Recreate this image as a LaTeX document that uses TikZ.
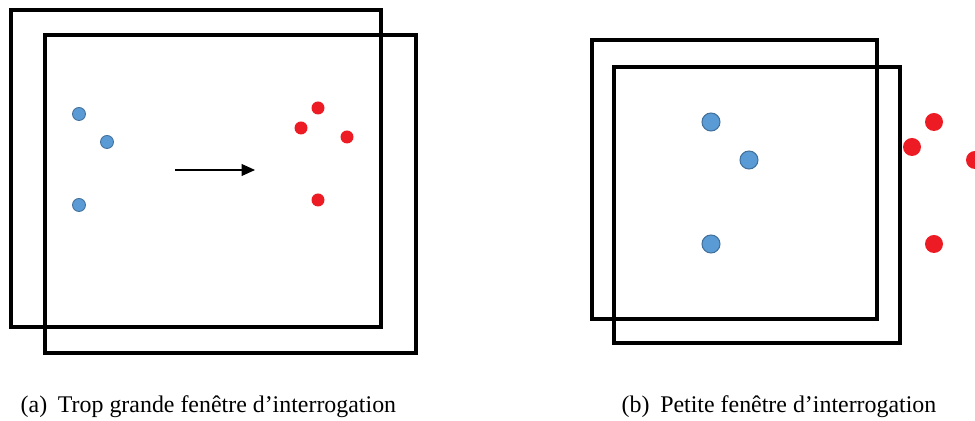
\documentclass[tikz,border=0pt]{standalone}
\usepackage{fontspec}
\setmainfont{Liberation Serif}
\usetikzlibrary{arrows.meta}

\definecolor{ptblue}{RGB}{91,155,213}
\definecolor{ptblueedge}{RGB}{65,113,156}
\definecolor{ptred}{RGB}{237,28,36}

\begin{document}
\begin{tikzpicture}[x=0.02cm, y=-0.02cm, thick, text=black, draw=black,
    window/.style={draw=black, line width=2pt},
    bluesmall/.style={circle, inner sep=0pt, minimum size=0.26cm, fill=ptblue, draw=ptblueedge, line width=0.5pt},
    redsmall/.style={circle, inner sep=0pt, minimum size=0.26cm, fill=ptred},
    bluebig/.style={circle, inner sep=0pt, minimum size=0.36cm, fill=ptblue, draw=ptblueedge, line width=0.6pt},
    redbig/.style={circle, inner sep=0pt, minimum size=0.36cm, fill=ptred},
    legend/.style={anchor=base west, inner sep=0pt, font=\fontsize{13.6}{16}\selectfont}]

        % Fix the page to the reference size
        \useasboundingbox (0,0) rectangle (975,421);
        \clip (0,0) rectangle (975,421);

        % (a) the two large query windows
        \draw[window] (11,10) rectangle (381,327);
        \draw[window] (45,35) rectangle (416,353);

        % Blue points on the left, red points on the right
        \node[bluesmall] (BlueA1) at (79,114) {};
        \node[bluesmall] (BlueA2) at (107,142) {};
        \node[bluesmall] (BlueA3) at (79,205) {};
        \node[redsmall] (RedA1) at (318,108) {};
        \node[redsmall] (RedA2) at (301,128) {};
        \node[redsmall] (RedA3) at (347,137) {};
        \node[redsmall] (RedA4) at (318,200) {};

        % Displacement arrow between the two groups
        \coordinate (ArrowStart) at (175,170);
        \coordinate (ArrowEnd) at (255,170);
        \draw[-{Triangle[length=0.27cm, width=0.24cm]}, line width=0.6pt] (ArrowStart) -- (ArrowEnd);

        % (b) the two small query windows
        \draw[window] (592,40) rectangle (877,319);
        \draw[window] (614,67) rectangle (900,343);

        % Points seen through the small window
        \node[bluebig] (BlueB1) at (711,122) {};
        \node[bluebig] (BlueB2) at (749,160) {};
        \node[bluebig] (BlueB3) at (711,244) {};
        \node[redbig] (RedB1) at (934,122) {};
        \node[redbig] (RedB2) at (912,147) {};
        \node[redbig] (RedB3) at (975,160) {};
        \node[redbig] (RedB4) at (934,244) {};

        % Sub-captions
        \node[legend] (CapA) at (20,413) {(a)\hspace{0.45em}Trop grande fenêtre d’interrogation};
        \node[legend] (CapB) at (621,413) {(b)\hspace{0.45em}Petite fenêtre d’interrogation};

      \end{tikzpicture}
\end{document}
